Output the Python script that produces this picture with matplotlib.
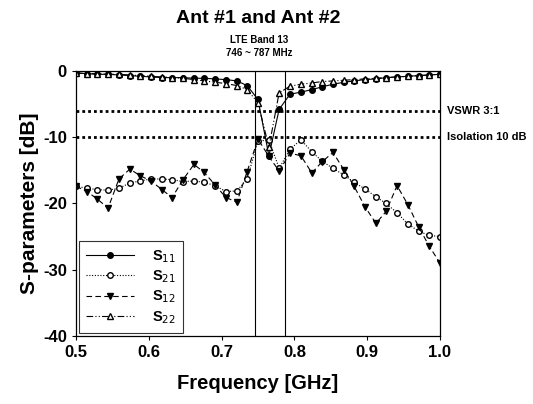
import matplotlib
matplotlib.use("Agg")
import matplotlib.pyplot as plt

plt.rcParams['font.family'] = ['Liberation Sans', 'DejaVu Sans']
plt.rcParams['axes.unicode_minus'] = False

# --------------------------------------------------
# Data
# --------------------------------------------------

freq = [0.500, 0.515, 0.529, 0.544, 0.559, 0.574, 0.588, 0.603, 0.618,
        0.632, 0.647, 0.662, 0.676, 0.691, 0.706, 0.721, 0.735, 0.750,
        0.765, 0.779, 0.794, 0.809, 0.824, 0.838, 0.853, 0.868, 0.882,
        0.897, 0.912, 0.926, 0.941, 0.956, 0.971, 0.985, 1.000]

s11 = [-0.3, -0.4, -0.5, -0.5, -0.6, -0.7, -0.8, -0.9, -1.0, -1.0,
       -1.0, -1.1, -1.1, -1.2, -1.3, -1.5, -2.2, -4.3, -12.8, -5.8,
       -3.5, -3.2, -2.8, -2.4, -2.0, -1.7, -1.5, -1.3, -1.2, -1.0,
       -0.9, -0.8, -0.7, -0.6, -0.5]

s21 = [-17.4, -17.7, -17.9, -18.0, -17.7, -16.9, -16.6, -16.3, -16.3, -16.4,
       -16.7, -16.6, -16.8, -17.3, -18.2, -18.1, -16.3, -10.6, -10.4, -14.7,
       -11.8, -10.4, -12.2, -13.6, -14.7, -15.7, -16.8, -17.8, -19.0, -20.0,
       -21.4, -23.1, -24.2, -24.8, -25.0]

s12 = [-17.4, -18.2, -19.3, -20.7, -16.3, -14.8, -15.8, -16.6, -17.9, -19.1,
       -16.4, -14.1, -15.3, -17.2, -19.1, -19.8, -15.2, -10.3, -12.9, -15.1,
       -12.4, -12.8, -15.4, -13.7, -12.3, -14.9, -17.4, -20.5, -23.0, -21.2,
       -17.3, -20.2, -23.6, -26.4, -29.0]

s22 = [-0.3, -0.4, -0.4, -0.5, -0.5, -0.6, -0.7, -0.8, -0.9, -1.0,
       -1.1, -1.3, -1.5, -1.7, -1.9, -2.2, -2.8, -4.8, -11.5, -3.3,
       -2.3, -2.0, -1.8, -1.6, -1.5, -1.4, -1.3, -1.2, -1.1, -1.0,
       -0.9, -0.8, -0.7, -0.6, -0.5]

band = [0.746, 0.787]
vswr_db = -6.0
iso_db = -10.0

# --------------------------------------------------
# Plot
# --------------------------------------------------

fig = plt.figure(figsize=(5.33, 4.04), dpi=100)
ax = fig.add_axes([0.1426, 0.1683, 0.6829, 0.656])

lw = 0.8
ms = 4

ax.axhline(vswr_db, color="black", linestyle=(0, (1, 1.1)), linewidth=2.0)
ax.axhline(iso_db, color="black", linestyle=(0, (1, 1.1)), linewidth=2.0)
for b in band:
    ax.axvline(b, color="black", linewidth=0.8)

ax.plot(freq, s11, color="black", linestyle="-", linewidth=lw,
        marker="o", markersize=ms, markerfacecolor="black", label="S$_{11}$")
ax.plot(freq, s21, color="black", linestyle=(0, (1, 1.5)), linewidth=lw,
        marker="o", markersize=ms, markerfacecolor="white", label="S$_{21}$")
ax.plot(freq, s12, color="black", linestyle=(0, (5, 3)), linewidth=lw,
        marker="v", markersize=ms + 1, markerfacecolor="black", label="S$_{12}$")
ax.plot(freq, s22, color="black", linestyle=(0, (6, 2, 1, 2, 1, 2)), linewidth=lw,
        marker="^", markersize=ms, markerfacecolor="white", label="S$_{22}$")

ax.set_xlim(0.5, 1.0)
ax.set_ylim(-40, 0)
ax.set_xticks([0.5, 0.6, 0.7, 0.8, 0.9, 1.0])
ax.set_xticklabels(["0.5", "0.6", "0.7", "0.8", "0.9", "1.0"])
ax.set_yticks([0, -10, -20, -30, -40])
ax.tick_params(direction="out", length=3, width=0.8, labelsize=12)
for lab in ax.get_xticklabels() + ax.get_yticklabels():
    lab.set_fontweight("bold")
for sp in ax.spines.values():
    sp.set_linewidth(0.9)

ax.set_xlabel("Frequency [GHz]", fontsize=14.5, fontweight="bold", labelpad=10)
ax.set_ylabel("S-parameters [dB]", fontsize=15, fontweight="bold", labelpad=3)

fig.text(0.485, 0.955, "Ant #1 and Ant #2", ha="center", va="center",
         fontsize=14, fontweight="bold")
fig.text(0.486, 0.9, "LTE Band 13", ha="center", va="center",
         fontsize=7, fontweight="bold")
fig.text(0.486, 0.869, "746 ~ 787 MHz", ha="center", va="center",
         fontsize=7, fontweight="bold")

ax.text(1.02, vswr_db, "VSWR 3:1", transform=ax.get_yaxis_transform(),
        ha="left", va="center", fontsize=8, fontweight="bold")
ax.text(1.02, iso_db, "Isolation 10 dB", transform=ax.get_yaxis_transform(),
        ha="left", va="center", fontsize=8, fontweight="bold")

leg = ax.legend(loc="lower left", fontsize=10.5, frameon=True, fancybox=False,
                edgecolor="black", handlelength=3.3, borderaxespad=0.2,
                labelspacing=0.25, handletextpad=1.2, borderpad=0.5)
leg.get_frame().set_linewidth(0.8)
for t in leg.get_texts():
    t.set_fontweight("bold")

fig.savefig("out.png", dpi=100)
